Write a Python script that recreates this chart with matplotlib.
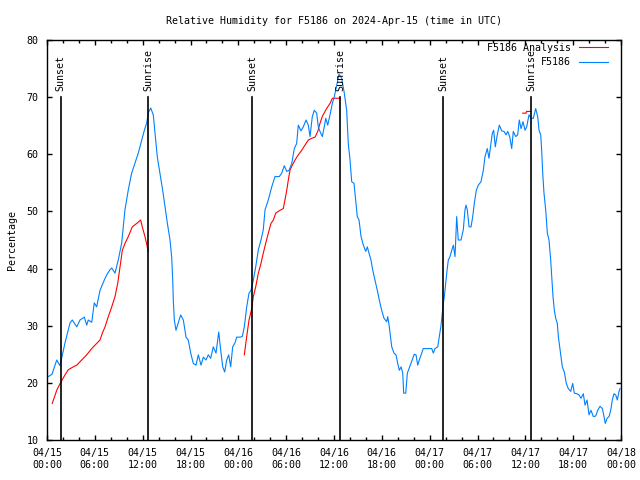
import matplotlib
matplotlib.use("Agg")
import matplotlib.pyplot as plt
import matplotlib.dates as mdates
import numpy as np
import pandas as pd

START = pd.Timestamp("2024-04-15 00:00")
END = pd.Timestamp("2024-04-18 00:00")

# observed humidity, hours since 04/15 00:00 UTC
obs_h = [0.16, 0.63, 1.22, 1.63, 2.26, 2.89, 3.17, 3.73, 4.14, 4.68, 4.98, 5.18, 5.61, 5.93,
         6.23, 6.65, 7.19, 7.49, 7.90, 8.12, 8.53, 8.94, 9.37, 9.78, 10.20, 10.62, 11.04, 11.45,
         11.88, 12.21, 12.51, 12.71, 13.01, 13.33, 13.55, 13.84, 14.17, 14.51, 14.80, 15.09,
         15.43, 15.64, 15.77, 15.84, 15.97, 16.18, 16.47, 16.77, 17.10, 17.44, 17.72, 18.03,
         18.35, 18.69, 18.98, 19.32, 19.61, 19.94, 20.23, 20.53, 20.86, 21.20, 21.54, 21.79,
         22.04, 22.29, 22.54, 22.79, 23.04, 23.29, 23.58, 23.80, 24.21, 24.50, 24.75, 25.05,
         25.34, 25.59, 25.88, 26.18, 26.51, 26.84, 27.13, 27.35, 27.76, 28.19, 28.60, 29.14,
         29.44, 29.77, 30.07, 30.36, 30.70, 31.02, 31.32, 31.52, 31.86, 32.15, 32.49, 32.78,
         32.99, 33.28, 33.53, 33.83, 34.03, 34.24, 34.53, 34.78, 34.96, 35.21, 35.50, 35.79,
         36.04, 36.34, 36.63, 36.97, 37.29, 37.59, 37.79, 38.01, 38.22, 38.51, 38.72, 38.92,
         39.14, 39.39, 39.68, 39.98, 40.18, 40.39, 40.64, 40.86, 41.14, 41.43, 41.68, 41.98,
         42.27, 42.61, 42.74, 42.94, 43.24, 43.53, 43.78, 43.99, 44.19, 44.41, 44.62, 44.74,
         45.00, 45.20, 45.41, 45.66, 45.87, 46.07, 46.29, 46.50, 46.70, 47.00, 47.20, 47.75,
         48.26, 48.46, 48.67, 49.01, 49.21, 49.42, 49.59, 49.71, 49.84, 50.01, 50.18, 50.34,
         50.55, 50.77, 50.97, 51.18, 51.39, 51.59, 51.93, 52.22, 52.43, 52.56, 52.72, 52.94,
         53.19, 53.40, 53.60, 53.85, 54.10, 54.44, 54.73, 54.94, 55.23, 55.44, 55.66, 55.86,
         56.03, 56.23, 56.48, 56.74, 57.04, 57.33, 57.58, 57.79, 58.04, 58.29, 58.49, 58.79,
         59.04, 59.24, 59.46, 59.71, 59.96, 60.17, 60.46, 60.71, 61.00, 61.30, 61.55, 61.72,
         61.93, 62.05, 62.18, 62.34, 62.56, 62.76, 62.97, 63.18, 63.31, 63.47, 63.64, 63.81,
         64.01, 64.14, 64.31, 64.48, 64.64, 64.89, 65.14, 65.39, 65.69, 65.94, 66.14, 66.44,
         66.73, 66.98, 67.27, 67.49, 67.74, 67.99, 68.24, 68.53, 68.83, 69.08, 69.37, 69.66,
         69.87, 70.03, 70.25, 70.50, 70.71, 70.91, 71.12, 71.33, 71.54, 71.75, 71.87]
obs_rh = [21.1, 21.5, 24.0, 23.0, 27.0, 30.5, 31.0, 29.8, 31.0, 31.5, 30.1, 31.0, 30.6, 34.0,
          33.3, 36.2, 38.0, 38.9, 39.8, 40.1, 39.2, 41.5, 44.5, 50.3, 53.8, 56.7, 58.5, 60.2,
          62.5, 64.2, 65.5, 67.3, 68.1, 66.9, 63.7, 59.5, 56.7, 53.7, 50.8, 48.0,
          45.0, 42.0, 38.0, 34.5, 31.0, 29.2, 30.5, 31.9, 31.0, 28.0, 27.5, 25.2,
          23.4, 23.1, 24.9, 23.1, 24.5, 24.0, 24.9, 24.3, 26.3, 25.2, 28.9, 25.7,
          22.8, 21.9, 24.0, 24.9, 22.8, 26.3, 27.0, 28.0, 28.0, 28.1, 29.8, 33.3,
          35.7, 36.2, 38.0, 40.3, 43.3, 45.0, 46.8, 50.3, 52.0, 54.3, 56.1, 56.1,
          56.7, 58.0, 57.0, 57.2, 58.4, 61.0, 61.9, 65.1, 64.1, 64.8, 66.0, 65.1,
          63.1, 66.6, 67.7, 67.2, 64.8, 64.0, 63.1, 64.8, 66.3, 65.1, 66.9, 68.9,
          70.1, 72.1, 74.0, 73.3, 70.7, 67.7, 61.9, 59.0, 55.2, 54.9, 52.0, 49.1,
          48.5, 45.6, 44.1, 43.0, 43.8, 42.7, 41.5, 39.7, 38.0, 36.2, 34.5, 32.7,
          31.3, 30.7, 31.6, 29.8, 26.3, 25.2, 24.9, 23.4, 22.2, 22.8, 21.7, 18.2,
          18.2, 21.7, 22.5, 23.4, 24.3, 25.0, 24.9, 23.1, 24.0, 25.2, 26.0, 26.0,
          26.0, 25.2, 26.0, 26.3, 28.1, 30.0, 32.2, 33.9, 35.1, 37.4, 39.7, 41.5,
          42.1, 43.2, 44.1, 42.1, 49.1, 45.0, 45.0, 46.8, 50.3, 51.1, 50.3, 47.3,
          47.3, 49.1, 51.4, 53.7, 54.6, 55.2, 57.2, 59.6, 61.0, 59.3, 61.6, 63.7,
          64.2, 61.3, 63.4, 65.1, 64.1, 64.0, 63.4, 64.0, 63.1, 61.0, 64.0, 63.1,
          63.4, 66.0, 64.5, 65.7, 64.2, 64.8, 66.9, 66.3, 66.3, 68.0, 66.6, 64.2,
          63.4, 60.7, 56.7, 53.2, 50.2, 46.2, 45.0, 41.5, 38.6, 35.1, 32.7, 31.3,
          30.4, 28.1, 26.3, 24.6, 22.8, 21.9, 19.9, 19.0, 18.5, 19.9, 18.2, 18.1,
          17.9, 17.3, 18.1, 16.1, 17.0, 14.4, 15.2, 14.1, 14.2, 15.2, 15.9, 15.5,
          14.1, 12.9, 13.8, 14.1, 15.2, 17.0, 18.1, 17.9, 17.0, 18.5, 19.0]

# analysis, one piece per night (nan = gap)
ana_h = [0.66, 1.22, 1.76, 2.26, 2.67, 3.30, 3.73, 4.35, 4.98, 5.61, 6.23, 6.65, 6.94, 7.28,
         7.69, 8.12, 8.53, 8.87, 9.16, 9.45, 9.78, 10.20, 10.70, 11.25, 11.75, 11.95, 12.29,
         12.71, 12.72,
         24.75, 25.05, 25.34, 25.68, 25.88, 26.18, 26.51, 26.84, 27.13, 27.43, 27.76, 28.10,
         28.39, 28.69, 29.23, 29.64, 29.85, 30.07, 30.27, 30.48, 30.77, 31.11, 31.52, 31.95,
         32.36, 32.78, 33.20, 33.62, 33.96, 34.24, 34.53, 34.87, 35.21, 35.50, 35.79, 36.21,
         36.75, 36.76,
         59.67, 60.09, 60.15, 60.71]
ana_rh = [16.4, 18.7, 20.2, 21.4, 22.3, 22.8, 23.1, 24.0, 24.9, 26.0, 26.9, 27.5, 28.7, 29.8,
          31.6, 33.3, 35.1, 37.4, 40.3, 43.2, 44.4, 45.6, 47.3, 47.9, 48.5, 47.3, 45.6,
          43.0, np.nan,
          24.9, 28.1, 31.0, 33.0, 35.1, 36.8, 39.2, 40.9, 42.7, 44.4, 46.2, 47.9,
          48.5, 49.7, 50.2, 50.5, 52.0, 53.7, 55.5, 57.2, 58.1, 59.0, 59.9, 60.7,
          61.6, 62.5, 62.8, 63.0, 64.0, 65.4, 66.6, 67.5, 68.3, 68.9, 69.8, 69.8,
          69.8, np.nan,
          67.2, 67.2, 67.5, 67.5]

sun_h = [1.73, 12.72, 25.73, 36.77, 49.72, 60.75]
sun_lbl = ["Sunset", "Sunrise", "Sunset", "Sunrise", "Sunset", "Sunrise"]

def to_time(hours):
    return START + pd.to_timedelta(np.asarray(hours), unit="h")

plt.rcParams["font.family"] = ["DejaVu Sans Mono"]
plt.rcParams["font.size"] = 7.2

fig = plt.figure(figsize=(6.4, 4.8), dpi=100)
ax = fig.add_axes([47 / 640, 40 / 480, 574 / 640, 400 / 480])

ax.plot(to_time(ana_h), ana_rh, color="#ff0000", lw=0.8, label="F5186 Analysis")
ax.plot(to_time(obs_h), obs_rh, color="#0080ff", lw=0.8, label="F5186")

for h, lbl in zip(sun_h, sun_lbl):
    t = to_time([h])[0]
    ax.plot([t, t], [10, 70], color="black", lw=1.2)
    ax.text(t, 71, lbl, rotation=90, ha="center", va="bottom")

ax.set_xlim(START, END)
ax.set_ylim(10, 80)
ax.set_yticks(range(10, 81, 10))
ax.xaxis.set_major_locator(mdates.HourLocator(byhour=[0, 6, 12, 18]))
ax.xaxis.set_minor_locator(mdates.HourLocator(byhour=range(0, 24, 2)))
ax.xaxis.set_major_formatter(mdates.DateFormatter("%m/%d\n%H:%M"))
ax.tick_params(which="both", direction="in", top=True, right=True, width=1)
ax.tick_params(which="major", length=3.5, pad=6)
ax.tick_params(which="minor", length=2)
for s in ax.spines.values():
    s.set_linewidth(1)

ax.set_title("Relative Humidity for F5186 on 2024-Apr-15 (time in UTC)",
             fontsize=7.2, pad=11.5)
ax.set_ylabel("Percentage", labelpad=7)

leg = ax.legend(loc="upper right", bbox_to_anchor=(0.982, 1.0), frameon=False,
                markerfirst=False, handlelength=2.9, labelspacing=0.45,
                borderaxespad=0, borderpad=0.3, handletextpad=0.8)

fig.savefig("out.png")
